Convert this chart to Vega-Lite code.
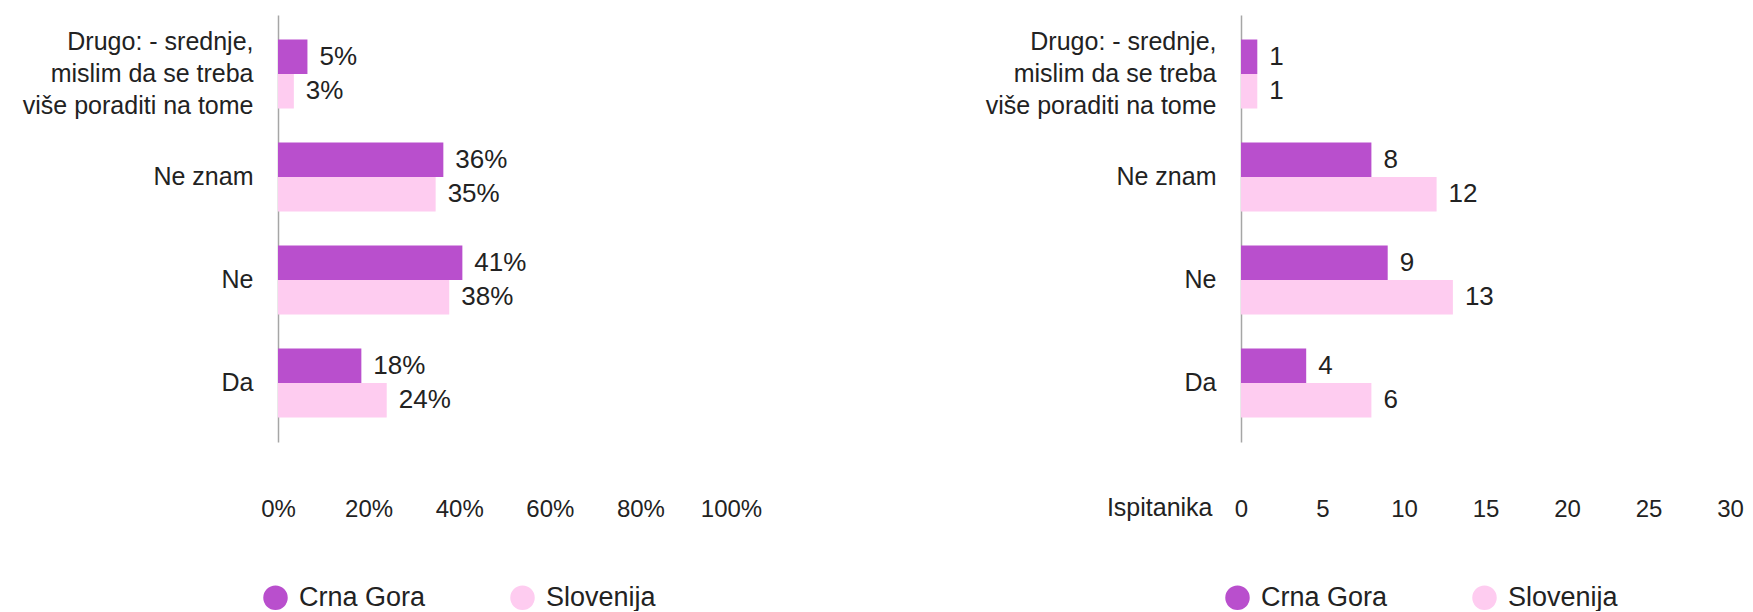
{
  "$schema": "https://vega.github.io/schema/vega-lite/v6.json",
  "padding": {"left": 0, "top": 15, "right": 0, "bottom": 0},
  "background": "white",
  "bounds": "flush",
  "spacing": 510,
  "config": {"font": "Liberation Sans", "view": {"stroke": null}},
  "resolve": {"scale": {"color": "independent", "x": "independent", "y": "independent"}, "legend": {"color": "independent"}},
  "hconcat": [
    {
      "width": 453,
      "height": 427,
      "data": {"values": [
        {"category": "Drugo: - srednje, mislim da se treba više poraditi na tome", "country": "Crna Gora", "value": 6.5, "label": "5%"},
        {"category": "Drugo: - srednje, mislim da se treba više poraditi na tome", "country": "Slovenija", "value": 3.5, "label": "3%"},
        {"category": "Ne znam", "country": "Crna Gora", "value": 36.5, "label": "36%"},
        {"category": "Ne znam", "country": "Slovenija", "value": 34.8, "label": "35%"},
        {"category": "Ne", "country": "Crna Gora", "value": 40.7, "label": "41%"},
        {"category": "Ne", "country": "Slovenija", "value": 37.8, "label": "38%"},
        {"category": "Da", "country": "Crna Gora", "value": 18.4, "label": "18%"},
        {"category": "Da", "country": "Slovenija", "value": 24, "label": "24%"}
      ]},
      "encoding": {
        "y": {
          "field": "category", "type": "nominal",
          "sort": ["Drugo: - srednje, mislim da se treba više poraditi na tome", "Ne znam", "Ne", "Da"],
          "scale": {"paddingInner": 0.33, "paddingOuter": 0.238},
          "axis": {
            "title": null, "domain": true, "domainColor": "#a6a6a6", "domainWidth": 1.5,
            "ticks": false, "tickSize": 0, "grid": false,
            "labelPadding": 25, "labelFontSize": 25, "labelColor": "#222222",
            "labelLineHeight": 32, "labelLimit": 400, "minExtent": 278, "maxExtent": 278,
            "labelOffset": {"condition": {"test": "indexof(datum.value, 'Drugo') == 0", "value": -32}, "value": 0},
            "labelExpr": "indexof(datum.value, 'Drugo') == 0 ? ['Drugo: - srednje,', 'mislim da se treba', 'više poraditi na tome'] : datum.label"
          }
        },
        "yOffset": {"field": "country", "type": "nominal", "sort": ["Crna Gora", "Slovenija"], "scale": {"paddingInner": 0, "paddingOuter": 0}},
        "x": {
          "field": "value", "type": "quantitative",
          "scale": {"domain": [0, 100], "nice": false},
          "axis": {
            "title": null, "domain": false, "ticks": false, "tickSize": 0, "grid": false,
            "values": [0, 20, 40, 60, 80, 100], "labelExpr": "datum.value + '%'",
            "labelFontSize": 24, "labelPadding": 55, "labelFlush": false, "labelColor": "#222222"
          }
        }
      },
      "layer": [
        {
          "mark": {"type": "bar"},
          "encoding": {
            "color": {
              "field": "country", "type": "nominal",
              "scale": {"domain": ["Crna Gora", "Slovenija"], "range": ["#B94FCD", "#FECCF0"]},
              "legend": {
                "title": null, "orient": "none", "legendX": -16, "legendY": 569,
                "direction": "horizontal", "symbolType": "circle", "symbolSize": 600,
                "symbolStrokeWidth": 0, "labelFontSize": 27, "labelColor": "#222222",
                "labelOffset": 10, "columnPadding": 83, "padding": 0
              }
            }
          }
        },
        {
          "mark": {"type": "text", "align": "left", "baseline": "middle", "dx": 12, "fontSize": 26, "color": "#222222"},
          "encoding": {"text": {"field": "label", "type": "nominal"}}
        }
      ]
    },
    {
      "width": 489,
      "height": 427,
      "data": {"values": [
        {"category": "Drugo: - srednje, mislim da se treba više poraditi na tome", "country": "Crna Gora", "value": 1, "label": "1"},
        {"category": "Drugo: - srednje, mislim da se treba više poraditi na tome", "country": "Slovenija", "value": 1, "label": "1"},
        {"category": "Ne znam", "country": "Crna Gora", "value": 8, "label": "8"},
        {"category": "Ne znam", "country": "Slovenija", "value": 12, "label": "12"},
        {"category": "Ne", "country": "Crna Gora", "value": 9, "label": "9"},
        {"category": "Ne", "country": "Slovenija", "value": 13, "label": "13"},
        {"category": "Da", "country": "Crna Gora", "value": 4, "label": "4"},
        {"category": "Da", "country": "Slovenija", "value": 8, "label": "6"}
      ]},
      "encoding": {
        "y": {
          "field": "category", "type": "nominal",
          "sort": ["Drugo: - srednje, mislim da se treba više poraditi na tome", "Ne znam", "Ne", "Da"],
          "scale": {"paddingInner": 0.33, "paddingOuter": 0.238},
          "axis": {
            "title": null, "domain": true, "domainColor": "#a6a6a6", "domainWidth": 1.5,
            "ticks": false, "tickSize": 0, "grid": false,
            "labelPadding": 25, "labelFontSize": 25, "labelColor": "#222222",
            "labelLineHeight": 32, "labelLimit": 400, "minExtent": 250, "maxExtent": 250,
            "labelOffset": {"condition": {"test": "indexof(datum.value, 'Drugo') == 0", "value": -32}, "value": 0},
            "labelExpr": "indexof(datum.value, 'Drugo') == 0 ? ['Drugo: - srednje,', 'mislim da se treba', 'više poraditi na tome'] : datum.label"
          }
        },
        "yOffset": {"field": "country", "type": "nominal", "sort": ["Crna Gora", "Slovenija"], "scale": {"paddingInner": 0, "paddingOuter": 0}},
        "x": {
          "field": "value", "type": "quantitative",
          "scale": {"domain": [0, 30], "nice": false},
          "axis": {
            "title": "Ispitanika", "titleX": -29, "titleY": 73, "titleAlign": "right",
            "titleBaseline": "alphabetic", "titleAngle": 0, "titleFontSize": 25,
            "titleFontWeight": "normal", "titleColor": "#222222",
            "domain": false, "ticks": false, "tickSize": 0, "grid": false,
            "values": [0, 5, 10, 15, 20, 25, 30],
            "labelFontSize": 24, "labelPadding": 55, "labelFlush": false, "labelColor": "#222222"
          }
        }
      },
      "layer": [
        {
          "mark": {"type": "bar"},
          "encoding": {
            "color": {
              "field": "country", "type": "nominal",
              "scale": {"domain": ["Crna Gora", "Slovenija"], "range": ["#B94FCD", "#FECCF0"]},
              "legend": {
                "title": null, "orient": "none", "legendX": -17, "legendY": 569,
                "direction": "horizontal", "symbolType": "circle", "symbolSize": 600,
                "symbolStrokeWidth": 0, "labelFontSize": 27, "labelColor": "#222222",
                "labelOffset": 10, "columnPadding": 83, "padding": 0
              }
            }
          }
        },
        {
          "mark": {"type": "text", "align": "left", "baseline": "middle", "dx": 12, "fontSize": 26, "color": "#222222"},
          "encoding": {"text": {"field": "label", "type": "nominal"}}
        }
      ]
    }
  ]
}
